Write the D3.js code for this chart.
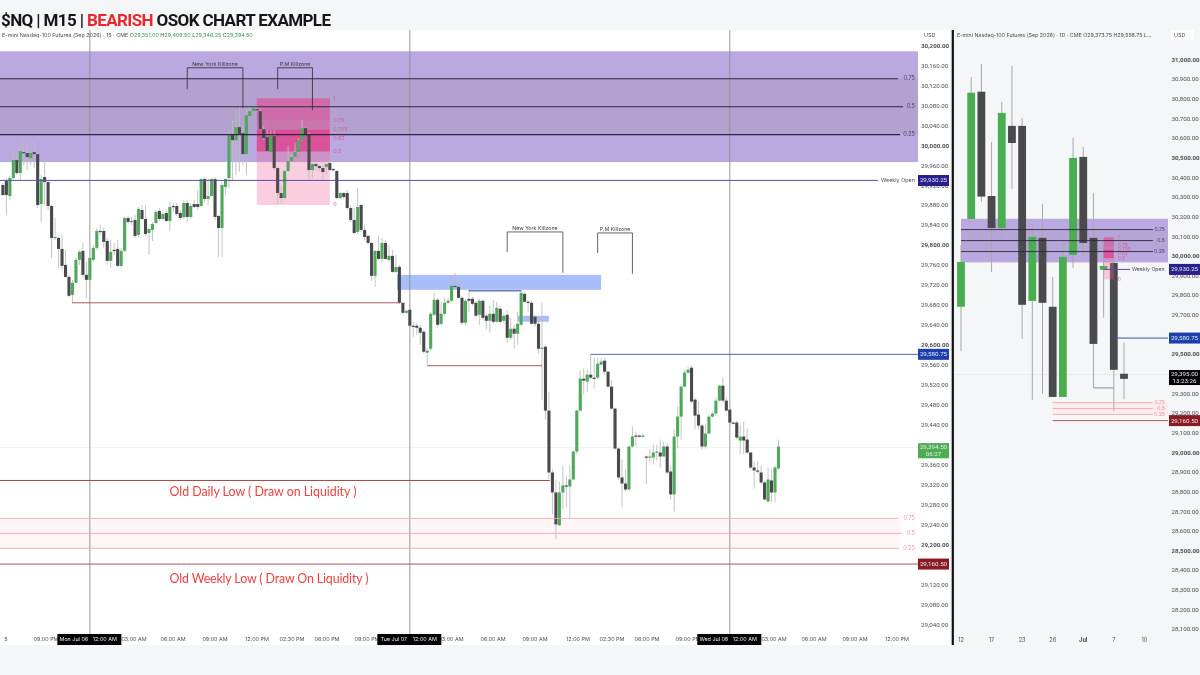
<!DOCTYPE html>
<html><head><meta charset="utf-8">
<script src="https://cdn.jsdelivr.net/npm/d3@7/dist/d3.min.js"></script>
<style>html,body{margin:0;padding:0;background:#f5f6f8}svg{display:block;filter:blur(.3px)}text{font-family:Inter,Roboto,sans-serif}</style>
</head><body><svg id="c" width="1200" height="675"></svg>
<script>
// 15-minute candles
const opens=[29920,29928,29898,29934,29970,29944,29986,29984,29974,29986,
29982,29882,29936,29926,29878,29814,29814,29792,29760,29736,
29700,29724,29770,29788,29740,29730,29770,29794,29828,29828,
29808,29768,29790,29792,29758,29788,29854,29846,29850,29820,
29870,29852,29824,29830,29844,29868,29852,29864,29848,29878,
29878,29864,29856,29884,29856,29882,29882,29878,29932,29892,
29898,29932,29858,29834,29916,29934,30022,30010,30036,30024,
29982,30058,30068,30072,30068,30032,30016,29986,30018,29954,
29904,29894,29948,29968,29976,29986,30010,30034,30022,29950,
29962,29958,29954,29956,29964,29952,29948,29894,29904,29904,
29874,29850,29826,29880,29830,29818,29804,29738,29788,29772,
29804,29770,29778,29746,29756,29684,29664,29670,29638,29638,
29634,29626,29584,29592,29660,29690,29642,29662,29684,29688,
29718,29716,29694,29644,29692,29692,29684,29660,29688,29658,
29648,29662,29646,29672,29648,29660,29614,29632,29622,29640,
29702,29686,29684,29656,29642,29592,29596,29468,29344,29304,
29238,29304,29318,29316,29330,29386,29468,29532,29526,29540,
29534,29534,29560,29568,29546,29516,29472,29392,29334,29322,
29310,29396,29418,29418,29416,29376,29374,29374,29384,29384,
29376,29396,29346,29300,29416,29456,29516,29544,29554,29490,
29460,29438,29396,29422,29456,29462,29488,29518,29488,29470,
29444,29444,29408,29416,29410,29384,29354,29348,29344,29324,
29286,29328,29304,29352];
const highs=[29924,29934,29938,29990,29984,30008,30006,30004,29994,30006,
29986,29940,29970,29930,29880,29854,29816,29820,29790,29740,
29730,29774,29790,29804,29766,29790,29800,29834,29840,29834,
29814,29810,29804,29810,29794,29856,29858,29856,29860,29876,
29880,29880,29834,29846,29870,29874,29866,29868,29886,29884,
29884,29870,29890,29890,29884,29890,29910,29934,29936,29934,
29934,29936,29860,29926,29934,30030,30050,30070,30080,30040,
30074,30076,30076,30076,30074,30038,30030,30030,30030,29958,
29920,29950,29998,29980,30004,30014,30050,30036,30026,29964,
29964,29960,29960,29964,29970,29954,29950,29906,29906,29910,
29880,29874,29914,29882,29840,29820,29806,29790,29818,29814,
29810,29800,29790,29780,29760,29686,29670,29686,29646,29644,
29640,29630,29594,29666,29704,29694,29686,29694,29694,29724,
29744,29720,29698,29692,29710,29696,29688,29692,29692,29662,
29678,29690,29686,29678,29662,29670,29654,29640,29666,29710,
29706,29690,29688,29660,29654,29684,29600,29506,29350,29330,
29326,29358,29338,29358,29388,29470,29548,29552,29550,29580,
29574,29574,29574,29574,29548,29530,29474,29394,29370,29350,
29398,29436,29426,29420,29422,29378,29390,29400,29400,29410,
29406,29404,29358,29430,29476,29520,29550,29556,29558,29494,
29486,29442,29440,29460,29466,29494,29520,29534,29494,29474,
29446,29448,29440,29446,29432,29386,29366,29366,29358,29326,
29354,29350,29358,29410];
const lows=[29898,29860,29890,29930,29940,29928,29960,29950,29960,29954,
29874,29846,29880,29870,29774,29810,29754,29750,29734,29696,
29684,29724,29760,29734,29694,29720,29766,29790,29820,29794,
29760,29754,29780,29756,29754,29786,29842,29840,29814,29816,
29850,29818,29780,29808,29842,29848,29850,29846,29828,29866,
29858,29850,29852,29846,29852,29874,29870,29876,29886,29880,
29896,29850,29776,29776,29900,29914,29930,29940,29946,29960,
29940,30054,30066,30068,30030,30010,29986,29984,29950,29882,
29882,29892,29946,29966,29974,29984,30008,30020,29930,29934,
29950,29948,29930,29940,29948,29948,29892,29892,29892,29870,
29846,29820,29822,29826,29810,29800,29728,29716,29770,29766,
29770,29766,29744,29744,29682,29660,29662,29636,29616,29620,
29600,29582,29560,29588,29658,29634,29638,29658,29682,29686,
29710,29692,29640,29640,29666,29678,29656,29640,29650,29630,
29624,29642,29644,29642,29644,29604,29610,29592,29600,29638,
29684,29666,29640,29636,29582,29490,29450,29330,29260,29210,
29238,29270,29274,29252,29328,29380,29466,29500,29506,29530,
29512,29530,29558,29540,29514,29470,29390,29330,29274,29306,
29308,29394,29396,29414,29414,29320,29364,29360,29368,29354,
29376,29340,29290,29266,29392,29410,29514,29542,29484,29430,
29430,29390,29392,29420,29454,29458,29486,29484,29466,29440,
29440,29410,29380,29380,29382,29350,29312,29342,29320,29288,
29284,29284,29284,29350];
const closes=[29900,29900,29934,29970,29944,29988,29984,29976,29984,29982,
29880,29932,29926,29878,29814,29816,29792,29758,29736,29698,
29724,29770,29786,29740,29730,29774,29794,29828,29826,29806,
29768,29786,29788,29758,29788,29854,29846,29848,29818,29872,
29852,29822,29832,29842,29866,29852,29862,29848,29876,29876,
29862,29854,29884,29856,29878,29876,29876,29932,29892,29898,
29932,29856,29834,29920,29932,30020,30010,30036,30022,29982,
30060,30068,30074,30070,30032,30014,29988,30018,29954,29904,
29894,29948,29968,29976,29986,30010,30034,30022,29950,29962,
29958,29954,29946,29962,29950,29950,29894,29904,29896,29874,
29850,29824,29876,29830,29816,29804,29738,29788,29772,29804,
29772,29778,29746,29756,29684,29664,29668,29638,29636,29634,
29624,29586,29588,29662,29690,29640,29662,29684,29688,29718,
29716,29694,29644,29688,29688,29682,29658,29688,29654,29648,
29662,29646,29674,29646,29658,29614,29632,29622,29642,29704,
29686,29684,29642,29642,29592,29594,29468,29344,29304,29240,
29304,29318,29316,29330,29386,29468,29532,29528,29540,29534,
29532,29562,29566,29546,29516,29472,29392,29334,29322,29310,
29396,29416,29416,29416,29418,29374,29376,29384,29386,29376,
29396,29344,29300,29416,29456,29516,29544,29550,29486,29458,
29438,29396,29422,29456,29462,29488,29518,29488,29468,29444,
29442,29414,29416,29408,29384,29354,29348,29346,29324,29290,
29330,29304,29354,29396];

// Daily candles
const dOpens=[29740,30187,30835,30304,30141,30661,30661,29770,30091,29740,29281,30004,30503,30091,29928,29963,29399];
const dHighs=[30055,30910,30976,30579,30783,30966,30701,30157,30264,29892,30065,30600,30554,30320,30055,29979,29558];
const dLows=[29515,30187,30274,29918,30096,30340,29577,29266,29297,29281,29281,29938,30004,29327,29684,29210,29271];
const dCloses=[29968,30830,30301,30141,30727,30574,29750,30096,29760,29281,29994,30498,30065,29551,29948,29419,29373];
const dLabels=["12","17","23","26","Jul","7","10"];
const dLabelBars=[0,3,6,9,12,15,18];

// Levels (prices)
const zoneTop=30188, zoneBottom=29966;
const zoneLevels=[{r:"0.75",p:30133},{r:"0.5",p:30077},{r:"0.25",p:30021}];
const lowZone=[{r:"0.75",p:29252},{r:"0.5",p:29222},{r:"0.25",p:29192}];
const weeklyOpen=29930.25, swingHigh=29580.75, weeklyLow=29160.50, dailyLow=29328;
const lastPrice=29394.50, dLastPrice=29395.00;
const fibHigh=30094, fibLow=29880;
const fibRatios=[1,0.79,0.705,0.62,0.5,0];
const fibLabels=["1","0.79","0.705","0.62","0.5","0"];
const fibFills=["#df4a90","#d85a9a","#e2408a","#e0408a","#f06a9f"];
const fibAlpha=[.62,.62,.85,.82,.33];
const yTicksMain=d3.range(30200,29039,-40);
const yTicksDay=d3.range(31000,28099,-100);
const xLabels=[["5",6],["09:00 PM",46],["03:00 AM",134],["06:00 AM",173],["09:00 AM",215],["12:00 PM",257],["02:30 PM",292],["06:00 PM",327],["09:00 PM",367],["03:00 AM",451],["06:00 AM",493],["09:00 AM",535],["12:00 PM",578],["02:30 PM",612],["06:00 PM",647],["09:00 PM",688],["03:00 AM",774],["06:00 AM",814],["09:00 AM",855],["12:00 PM",897]];
const dayMarks=[{bar:25,label:"Mon Jul 06",t:"12:00 AM"},{bar:117,label:"Tue Jul 07",t:"12:00 AM"},{bar:209,label:"Wed Jul 08",t:"12:00 AM"}];

const svg=d3.select("#c");
const x=d3.scaleLinear().domain([0,223]).range([2.9,778.5]);
const y=d3.scaleLinear().domain([30200,29040]).range([45.3,624.2]);
const xd=d3.scaleLinear().domain([0,16]).range([961,1124]);
const yd=d3.scaleLinear().domain([31000,28100]).range([59.3,628.9]);
const R=918, RD=1168, F=d3.format(",.2f");

function rect(g,x0,y0,w,h,fill,op){return g.append("rect").attr("x",x0).attr("y",y0).attr("width",w).attr("height",h).attr("fill",fill).attr("fill-opacity",op==null?1:op);}
function line(g,x0,y0,x1,y1,c,w){return g.append("line").attr("x1",x0).attr("y1",y0).attr("x2",x1).attr("y2",y1).attr("stroke",c).attr("stroke-width",w||1);}
function text(g,x0,y0,s,size,fill,anchor,weight){return g.append("text").attr("x",x0).attr("y",y0).attr("font-size",size).attr("fill",fill).attr("text-anchor",anchor||"start").attr("font-weight",weight||400).attr("dominant-baseline","middle").text(s);}
function candles(g,o,h,l,c,xs,ys,w,up,down,wick,ww){
  const idx=d3.range(o.length);
  g.selectAll(null).data(idx).join("line").attr("x1",xs).attr("x2",xs).attr("y1",i=>ys(h[i])).attr("y2",i=>ys(l[i])).attr("stroke",wick).attr("stroke-width",ww);
  g.selectAll(null).data(idx).join("rect").attr("x",i=>xs(i)-w/2).attr("width",w)
   .attr("y",i=>ys(Math.max(o[i],c[i]))).attr("height",i=>Math.max(1.2,Math.abs(ys(o[i])-ys(c[i]))))
   .attr("fill",i=>c[i]>=o[i]?up:down);
}
function axisLabels(g,ticks,ys,xx,boldStep){
  const ax=d3.axisRight(ys).tickValues(ticks).tickFormat(F).tickSize(0).tickPadding(0);
  const a=g.append("g").attr("transform",`translate(${xx},0)`).call(ax);
  a.select(".domain").remove();
  a.selectAll("text").attr("font-size",6.2).attr("fill","#4a4d55").style("font-family","Roboto,sans-serif")
   .attr("font-weight",d=>d%boldStep===0?700:400);
}
function tag(g,x0,cy,w,bg,lines){
  const h=lines.length>1?15:11;
  rect(g,x0,cy-h/2,w,h,bg);
  lines.forEach((s,i)=>text(g,x0+w/2,cy+(lines.length>1?(i?3.6:-3.4):0.3),s,6.2,"#e8ecf5","middle").style("font-family","Roboto,sans-serif"));
}

// panes
rect(svg,0,0,1200,675,"#f5f6f8");
rect(svg,0,30,950,615,"#ffffff");

// ---- main pane
const m=svg.append("g");
line(m,0,y(lastPrice),R,y(lastPrice),"#e6e6e6",.7);
rect(m,0,y(zoneTop),R,y(zoneBottom)-y(zoneTop),"#baa8e0");
rect(m,0,y(zoneLevels[0].p),R,y(zoneLevels[2].p)-y(zoneLevels[0].p),"#a0909f",.24);
// fib
const fibP=r=>fibLow+(fibHigh-fibLow)*r;
fibFills.forEach((f,i)=>{const a=y(fibP(fibRatios[i])),b=y(fibP(fibRatios[i+1]));rect(m,x(73),a,x(94)-x(73),b-a,f,fibAlpha[i]);});
// low zone
rect(m,0,y(lowZone[0].p),900,y(lowZone[2].p)-y(lowZone[0].p),"#fef6f6");
// blue zones
rect(m,x(113.3),y(29740),x(172)-x(113.3),y(29710)-y(29740),"#a9bdf9");
rect(m,x(148),y(29658),x(157)-x(148),y(29646)-y(29658),"#a9bdf9");
// time lines
dayMarks.forEach(d=>line(m,x(d.bar),30,x(d.bar),634,"#8d8d8d",.9));
// candles
candles(m.append("g"),opens,highs,lows,closes,x,y,3.1,"#4fa85b","#4a4a4c","#bdbdbd",.9);
// levels
const zoneEnds=[898,903,900];
zoneLevels.forEach((l,i)=>{line(m,0,y(l.p),zoneEnds[i],y(l.p),"#2f2640",1.1);
  text(m,915,y(l.p)+.2,l.r,5.6,"#4a4060","end");});
fibLabels.forEach((s,i)=>text(m,x(94)+3.5,y(fibP(fibRatios[i])),s,5.4,"#d65a9e"));
line(m,0,y(weeklyOpen)+.5,878,y(weeklyOpen)+.5,"#5a4ea8",1);
text(m,881,y(weeklyOpen)+.7,"Weekly Open",5.4,"#4a4a55");
line(m,0,y(dailyLow),x(157.3),y(dailyLow),"#a44a4a",1);
line(m,0,y(weeklyLow),R,y(weeklyLow),"#a9545e",1);
lowZone.forEach((l,i)=>{line(m,0,y(l.p),[898,902,899][i],y(l.p),"#f0aab1",.9);
  text(m,915,y(l.p)+.2,l.r,5.6,"#ef9aa4","end");});
line(m,x(19.9),y(29684),x(114.2),y(29684),"#a45a5a",1);
line(m,x(122),y(29558),x(155),y(29558),"#a45a5a",1);
line(m,x(134),y(29708),x(149),y(29708),"#2f3a80",1);
line(m,x(169),y(swingHigh),R,y(swingHigh),"#4c66b8",1);
// killzone brackets
const kz=[{label:"New York Killzone",a:53,b:69,top:30155,la:30112,lb:30074},
 {label:"P.M Killzone",a:79,b:89,top:30155,la:30112,lb:30070},
 {label:"New York Killzone",a:145,b:161,top:29826,la:29786,lb:29744},
 {label:"P.M Killzone",a:171,b:181,top:29824,la:29784,lb:29742}];
kz.forEach(k=>{
  m.append("path").attr("fill","none").attr("stroke",k.a<100?"#3a3540":"#555").attr("stroke-width",.9)
   .attr("d",d3.line()([[x(k.a),y(k.la)],[x(k.a),y(k.top)],[x(k.b),y(k.top)],[x(k.b),y(k.lb)]]));
  text(m,(x(k.a)+x(k.b))/2,y(k.top)-3.5,k.label,5.3,"#3a3a44","middle");
});
text(m,263,493,"Old Daily Low ( Draw on Liquidity )",12.4,"#f04040","middle").attr("textLength",187).style("font-family","Lato,sans-serif");
text(m,269,580,"Old Weekly Low ( Draw On Liquidity )",12.4,"#f04040","middle").attr("textLength",199).style("font-family","Lato,sans-serif");

// main axis
const ma=svg.append("g");
axisLabels(ma,yTicksMain,y,921,200);
rect(ma,919,30,24,9,"#ffffff");
text(ma,924,35.5,"USD",5.4,"#4a4d55");
tag(ma,918,y(weeklyOpen)+.6,31,"#2a1f8c",[F(weeklyOpen)]);
tag(ma,918,y(swingHigh),31,"#1d3fae",[F(swingHigh)]);
tag(ma,918,y(weeklyLow),31,"#8a1a22",[F(weeklyLow)]);
tag(ma,918,y(lastPrice)+3.5,31,"#4cae50",[F(lastPrice),"06:27"]);

// time axis
xLabels.forEach(d=>text(svg,d[1],640,d[0],5.4,"#4a4d55","middle"));
dayMarks.forEach(d=>{
  const c=x(d.bar);
  rect(svg,c-32.5,634,64,11,"#000");
  text(svg,c-16,640,d.label,5.4,"#eee","middle");
  text(svg,c+15,640,d.t,5.4,"#eee","middle");
});

// ---- daily pane
const r=svg.append("g");
line(r,952.8,30,952.8,645,"#111",2.2);
line(r,955,yd(dLastPrice),1168,yd(dLastPrice),"#e4e4e6",.7);
rect(r,xd(0),yd(zoneTop),RD-xd(0),yd(zoneBottom)-yd(zoneTop),"#baa8e0");
rect(r,xd(0),yd(zoneLevels[0].p),RD-xd(0),yd(zoneLevels[2].p)-yd(zoneLevels[0].p),"#a0909f",.12);
rect(r,xd(9),yd(lowZone[0].p),RD-xd(9),yd(lowZone[2].p)-yd(lowZone[0].p),"#fbecee");
candles(r.append("g"),dOpens,dHighs,dLows,dCloses,xd,yd,7.8,"#48ae50","#4a4a4c","#a8a8a8",1);
// fib overlay on the daily pane
fibFills.forEach((f,i)=>{const a=yd(fibP(fibRatios[i])),b=yd(fibP(fibRatios[i+1]));rect(r,xd(14),a,xd(15)-xd(14),b-a,f,fibAlpha[i]);});
fibLabels.forEach((s,i)=>text(r,xd(15)+4,yd(fibP(fibRatios[i])),s,4.8,"#d65a9e"));
zoneLevels.forEach(l=>{line(r,xd(0),yd(l.p),1153,yd(l.p),"#2f2640",.9);text(r,1165,yd(l.p)+.2,l.r,5.2,"#4a4060","end");});
lowZone.forEach(l=>{line(r,xd(9),yd(l.p),1153,yd(l.p),"#f2aab2",.9);text(r,1165,yd(l.p)+.2,l.r,5.2,"#ef8f9a","end");});
line(r,xd(14),yd(weeklyOpen),1130,yd(weeklyOpen),"#5a4ea8",1);
text(r,1132,yd(weeklyOpen)+.2,"Weekly Open",5.2,"#4a4a55");
line(r,xd(15),yd(swingHigh),RD,yd(swingHigh),"#3c55b0",1);
line(r,xd(13),yd(dLows[13]),xd(15),yd(dLows[13]),"#8a8a8a",1);
line(r,xd(9),yd(weeklyLow),RD,yd(weeklyLow),"#a9545e",1);
text(r,957,35.5,"E-mini Nasdaq-100 Futures (Sep 2026) · 1D · CME   O29,373.75   H29,558.75   L...",5.3,"#4a4d55");
axisLabels(r,yTicksDay,yd,1171.5,500);
rect(r,1170,30,24,10,"#ffffff").attr("rx",2);
text(r,1174,35.5,"USD",5.4,"#4a4d55");
tag(r,1169,yd(weeklyOpen),31,"#2a1f8c",[F(weeklyOpen)]);
tag(r,1169,yd(swingHigh),31,"#1d3fae",[F(swingHigh)]);
tag(r,1169,yd(weeklyLow),31,"#8a1a22",[F(weeklyLow)]);
tag(r,1169,yd(dLastPrice)+3,31,"#000000",[F(dLastPrice),"13:23:26"]);
dLabels.forEach((s,i)=>text(r,xd(dLabelBars[i]),640,s,5.6,"#4a4d55","middle",s==="Jul"?700:400));

// ---- header
const t=svg.append("text").attr("x",1).attr("y",22).attr("font-size",17).attr("font-weight",700).attr("fill","#16161a").attr("dominant-baseline","middle").attr("textLength",330).style("font-family","Roboto,sans-serif");
t.append("tspan").text("$NQ | M15 | ");
t.append("tspan").attr("fill","#e8282e").text("BEARISH");
t.append("tspan").text(" OSOK CHART EXAMPLE");
const s=svg.append("text").attr("x",2).attr("y",35.5).attr("font-size",5.4).attr("fill","#4a4d55").attr("dominant-baseline","middle");
s.append("tspan").text("E-mini Nasdaq-100 Futures (Sep 2026) · 15 · CME  ");
[["O","29,351.00"],["H","29,409.50"],["L","29,346.25"],["C","29,394.50"]].forEach(d=>{
  s.append("tspan").text(d[0]);s.append("tspan").attr("fill","#3f9a55").text(d[1]+"  ");
});
</script></body></html>
